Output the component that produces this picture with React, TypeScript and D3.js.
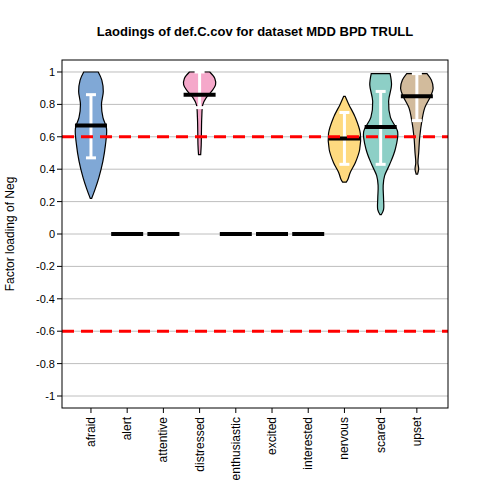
import * as d3 from "d3";

const categories = ["afraid", "alert", "attentive", "distressed", "enthusiastic", "excited", "interested", "nervous", "scared", "upset"];
const colors = ["#80A8D6", null, null, "#F5A8CA", null, null, null, "#FEDA80", "#8DCFC6", "#D2BB9C"];
const medians = [0.67, 0, 0, 0.86, 0, 0, 0, 0.59, 0.66, 0.85];
const q1 = [0.47, 0, 0, 0.78, 0, 0, 0, 0.43, 0.43, 0.7];
const q3 = [0.86, 0, 0, 1.0, 0, 0, 0, 0.75, 0.88, 0.99];
// violin profiles: [loading, half width in category units]
const profiles: ([number, number][] | null)[] = [
  [[1.0, 0.2], [0.95, 0.3], [0.88, 0.34], [0.8, 0.29], [0.72, 0.33], [0.65, 0.43], [0.55, 0.4], [0.45, 0.33], [0.35, 0.22], [0.28, 0.12], [0.22, 0.02]],
  null, null,
  [[1.0, 0.28], [0.96, 0.42], [0.92, 0.44], [0.88, 0.33], [0.84, 0.18], [0.8, 0.09], [0.72, 0.06], [0.62, 0.05], [0.55, 0.045], [0.49, 0.03]],
  null, null, null,
  [[0.85, 0.02], [0.8, 0.12], [0.72, 0.3], [0.62, 0.44], [0.52, 0.42], [0.44, 0.3], [0.38, 0.16], [0.34, 0.1], [0.32, 0.05]],
  [[0.99, 0.26], [0.92, 0.3], [0.82, 0.22], [0.72, 0.27], [0.63, 0.47], [0.52, 0.4], [0.43, 0.25], [0.36, 0.11], [0.3, 0.07], [0.22, 0.08], [0.15, 0.08], [0.12, 0.02]],
  [[0.99, 0.28], [0.95, 0.4], [0.9, 0.45], [0.85, 0.38], [0.78, 0.22], [0.7, 0.14], [0.6, 0.08], [0.5, 0.05], [0.44, 0.03], [0.4, 0.05], [0.37, 0.02]],
];
const yTicks = [-1, -0.8, -0.6, -0.4, -0.2, 0, 0.2, 0.4, 0.6, 0.8, 1];
const cutoffs = [0.6, -0.6];

const W = 480, H = 480;
const left = 62, right = 448, top = 60, bottom = 408;
const x = d3.scaleLinear().domain([0.2, 10.86]).range([left, right]);
const y = d3.scaleLinear().domain([-1.074, 1.074]).range([bottom, top]);
const unit = x(2) - x(1);
const font = "Arial, 'Liberation Sans', sans-serif";

export default function App() {
  return (
    <svg width={W} height={H} style={{ position: "absolute", left: 0, top: 0, fontFamily: font }}>
      <rect width={W} height={H} fill="white" />
      <text x={(left + right) / 2} y={36} textAnchor="middle" fontSize={13} fontWeight="bold">
        Laodings of def.C.cov for dataset MDD BPD TRULL
      </text>
      {yTicks.map((t) => (
        <g key={t}>
          <line x1={left} x2={right} y1={y(t)} y2={y(t)} stroke="#bebebe" strokeWidth={1} />
          <line x1={left - 5} x2={left} y1={y(t)} y2={y(t)} stroke="black" />
          <text x={left - 7} y={y(t) + 4} textAnchor="end" fontSize={11}>{String(t)}</text>
        </g>
      ))}
      {profiles.map((p, i) => {
        if (!p) return null;
        const cx = x(i + 1);
        const area = d3.area<[number, number]>()
          .y((d) => y(d[0]))
          .x0((d) => cx - d[1] * unit)
          .x1((d) => cx + d[1] * unit)
          .curve(d3.curveCatmullRom);
        return <path key={i} d={area(p) ?? ""} fill={colors[i]!} stroke="black" strokeWidth={1.2} />;
      })}
      {categories.map((c, i) => {
        const cx = x(i + 1);
        const hasViolin = !!profiles[i];
        return (
          <g key={c}>
            {hasViolin && (
              <g stroke="white" strokeWidth={3}>
                <line x1={cx} x2={cx} y1={y(q1[i])} y2={y(q3[i])} />
                <line x1={cx - 5} x2={cx + 5} y1={y(q1[i])} y2={y(q1[i])} />
                <line x1={cx - 5} x2={cx + 5} y1={y(q3[i])} y2={y(q3[i])} />
              </g>
            )}
            <line x1={cx - 16} x2={cx + 16} y1={y(medians[i])} y2={y(medians[i])} stroke="black" strokeWidth={4} />
          </g>
        );
      })}
      {cutoffs.map((c) => (
        <line key={c} x1={left} x2={right} y1={y(c)} y2={y(c)} stroke="red" strokeWidth={3} strokeDasharray="12,7" />
      ))}
      <rect x={left} y={top} width={right - left} height={bottom - top} fill="none" stroke="black" />
      {categories.map((c, i) => (
        <g key={c}>
          <line x1={x(i + 1)} x2={x(i + 1)} y1={bottom} y2={bottom + 5} stroke="black" />
          <text transform={`translate(${x(i + 1) + 4},${bottom + 9}) rotate(-90)`} textAnchor="end" fontSize={12}>{c}</text>
        </g>
      ))}
      <text transform={`translate(14,${(top + bottom) / 2}) rotate(-90)`} textAnchor="middle" fontSize={12}>
        Factor loading of Neg
      </text>
    </svg>
  );
}
